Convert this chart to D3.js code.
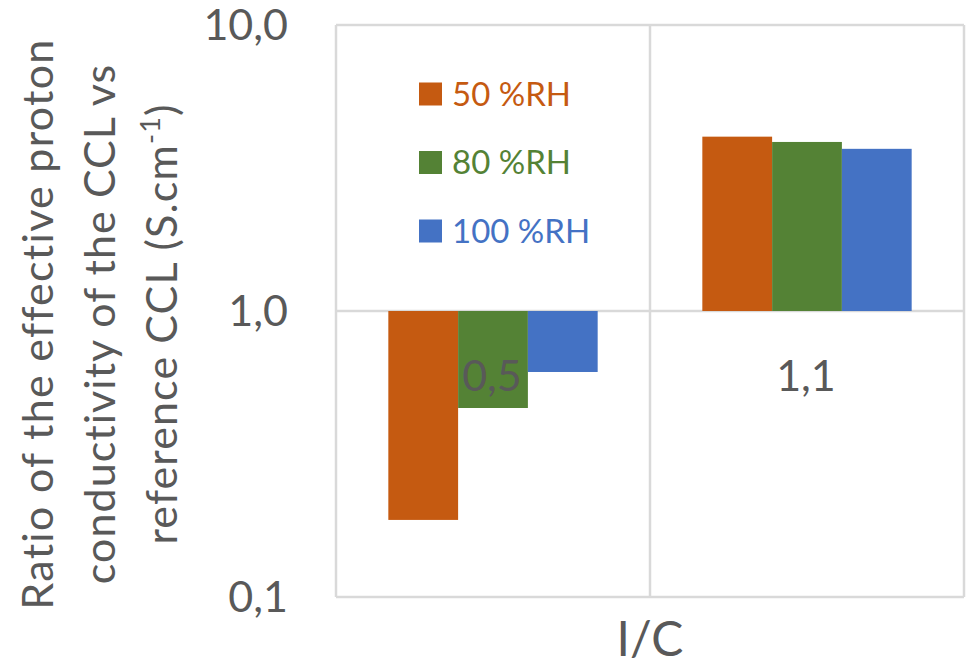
<!DOCTYPE html>
<html>
<head>
<meta charset="utf-8">
<script src="https://cdn.jsdelivr.net/npm/d3@7"></script>
<style>
  html, body { margin: 0; padding: 0; background: #ffffff; }
  svg { display: block; }
  text { font-family: Lato, "Open Sans", sans-serif; }
</style>
</head>
<body>
<svg id="chart" width="974" height="671"></svg>
<script>
// I/C ratio categories and conductivity ratios per relative humidity
const categories = ["0,5", "1,1"];
const seriesNames = ["50 %RH", "80 %RH", "100 %RH"];
const values50 = [0.186, 4.07];
const values80 = [0.458, 3.90];
const values100 = [0.612, 3.69];
const yTickValues = [0.1, 1, 10];
const yTickLabels = ["0,1", "1,0", "10,0"];
const seriesColors = ["#C55A11", "#548235", "#4472C4"];

const seriesValues = [values50, values80, values100];

const svg = d3.select("#chart");
const W = 974, H = 671;
const margin = { left: 336, right: 10, top: 25, bottom: 74 };
const plotW = W - margin.left - margin.right;
const plotH = H - margin.top - margin.bottom;
const textColor = "#595959";
const gridColor = "#d9d9d9";

const g = svg.append("g").attr("transform", `translate(${margin.left},${margin.top})`);

const x = d3.scaleBand().domain(categories).range([0, plotW]).paddingInner(0).paddingOuter(0);
const y = d3.scaleLog().domain([0.1, 10]).range([plotH, 0]);

// bar width follows a 150% gap width between clusters
const gapWidth = 1.5;
const barW = x.bandwidth() / (seriesNames.length + gapWidth);
const xs = d3.scaleBand().domain(seriesNames)
  .range([barW * gapWidth / 2, x.bandwidth() - barW * gapWidth / 2])
  .paddingInner(0).paddingOuter(0);

// horizontal gridlines at each decade
g.append("g").selectAll("line").data(yTickValues).join("line")
  .attr("x1", 0).attr("x2", plotW)
  .attr("y1", d => y(d)).attr("y2", d => y(d))
  .attr("stroke", gridColor).attr("stroke-width", 2.5);

// vertical gridlines at category boundaries
const xEdges = categories.map(c => x(c)).concat([plotW]);
g.append("g").selectAll("line").data(xEdges).join("line")
  .attr("x1", d => d).attr("x2", d => d)
  .attr("y1", 0).attr("y2", plotH)
  .attr("stroke", gridColor).attr("stroke-width", 2.5);

// bars grow up or down from the 1,0 baseline
const barData = [];
categories.forEach((c, ci) => {
  seriesNames.forEach((s, si) => {
    barData.push({ cat: c, series: s, value: seriesValues[si][ci], color: seriesColors[si] });
  });
});
g.append("g").selectAll("rect").data(barData).join("rect")
  .attr("x", d => x(d.cat) + xs(d.series))
  .attr("width", xs.bandwidth())
  .attr("y", d => Math.min(y(d.value), y(1)))
  .attr("height", d => Math.abs(y(d.value) - y(1)))
  .attr("fill", d => d.color);

// category labels sit just below the baseline
g.append("g").selectAll("text").data(categories).join("text")
  .attr("x", d => x(d) + x.bandwidth() / 2 - 1)
  .attr("y", y(1) + 80)
  .attr("text-anchor", "middle")
  .attr("fill", textColor)
  .attr("font-size", 43)
  .text(d => d);

// y tick labels
g.append("g").selectAll("text").data(yTickValues).join("text")
  .attr("x", -48)
  .attr("y", d => y(d))
  .attr("dy", "0.36em")
  .attr("text-anchor", "end")
  .attr("fill", textColor)
  .attr("font-size", 43)
  .text((d, i) => yTickLabels[i]);

// x axis title
svg.append("text")
  .attr("x", margin.left + plotW / 2)
  .attr("y", 656)
  .attr("text-anchor", "middle")
  .attr("fill", textColor)
  .attr("font-size", 48)
  .text("I/C");

// y axis title, three rotated lines, each spread to its line length
const titleG = svg.append("g").attr("transform", "translate(0,324) rotate(-90)");
const titleT = titleG.append("text")
  .attr("text-anchor", "middle")
  .attr("fill", textColor)
  .attr("font-size", 43);
const l1 = titleT.append("tspan").attr("x", 0).attr("y", 53).text("Ratio of the effective proton");
const l2 = titleT.append("tspan").attr("x", 0).attr("y", 115).text("conductivity of the CCL vs");
const l3 = titleT.append("tspan").attr("x", 0).attr("y", 177);
l3.append("tspan").text("reference CCL (S.cm");
l3.append("tspan").attr("dy", -17).attr("font-size", 27).text("-1");
l3.append("tspan").attr("dy", 17).text(")");

[[l1, 570], [l2, 520], [l3, 440]].forEach(([sel, target]) => {
  const node = sel.node();
  const len = node.getComputedTextLength();
  const n = node.textContent.length;
  if (n > 1) sel.attr("letter-spacing", (target - len) / (n - 1));
});

// legend
const legend = svg.append("g").attr("transform", "translate(419,94)");
const rows = legend.selectAll("g").data(seriesNames).join("g")
  .attr("transform", (d, i) => `translate(0,${i * 68.5})`);
rows.append("rect")
  .attr("x", 0).attr("y", -11.5).attr("width", 23).attr("height", 23)
  .attr("fill", (d, i) => seriesColors[i]);
rows.append("text")
  .attr("x", 33).attr("y", 0).attr("dy", "0.36em")
  .attr("fill", (d, i) => seriesColors[i])
  .attr("font-size", 33)
  .text(d => d);
</script>
</body>
</html>
